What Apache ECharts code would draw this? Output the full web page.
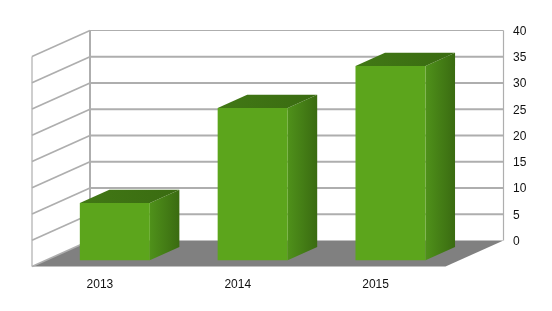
<!DOCTYPE html>
<html>
<head>
<meta charset="utf-8">
<style>html,body{margin:0;padding:0;background:#fff}#c{width:552px;height:311px}</style>
<script src="https://cdn.jsdelivr.net/npm/echarts@6/dist/echarts.min.js"></script>
</head>
<body>
<div id="c"></div>
<script>
const categories = ['2013', '2014', '2015'];
const values = [10.9, 29, 37];
const yTicks = [0, 5, 10, 15, 20, 25, 30, 35, 40];

const DX = 58, DY = -26;          // full depth of the 3D box
const F0 = 0.24, F1 = 0.749;      // bar depth range
const BAR = 0.508;                // bar width share of category band
const GREY = '#aeaeae';

const chart = echarts.init(document.getElementById('c'), null, {renderer: 'canvas'});

function poly(pts, fill, z2) {
  return {type: 'polygon', shape: {points: pts}, style: {fill: fill, stroke: null}, z2: z2 || 0};
}
function seg(a, b, w, z2) {
  return {type: 'line', shape: {x1: a[0], y1: a[1], x2: b[0], y2: b[1]},
    style: {stroke: GREY, lineWidth: w}, z2: z2 || 0};
}

function renderWalls(params, api) {
  const v = api.value(0);
  const p = api.coord([0, v]);
  const x0 = params.coordSys.x;
  const y = p[1];
  const children = [];
  const top = v === yTicks[yTicks.length - 1];
  const w = top ? 1.2 : 2;
  children.push(seg([x0, y], [x0 + DX, y + DY], top ? 1.5 : 1.8));
  if (v !== 0) {
    children.push(seg([x0 + DX, y + DY], [x0 + DX + params.coordSys.width, y + DY], w));
  }
  if (v === 0) {
    const xr = x0 + params.coordSys.width;
    const yT = params.coordSys.y;
    children.unshift(poly([[x0, y], [x0 + DX, y + DY], [xr + DX, y + DY], [xr, y]], '#808080'));
    children.push(seg([x0, y], [x0, yT], 1.2));
    children.push(seg([x0 + DX, y + DY], [x0 + DX, yT + DY], 2));
    children.push(seg([xr + DX, y + DY], [xr + DX, yT + DY], 1.2));
  }
  return {type: 'group', children: children};
}

function renderBar(params, api) {
  const i = api.value(0), v = api.value(1);
  const base = api.coord([i, 0]);
  const tip = api.coord([i, v]);
  const w = api.size([1, 0])[0] * BAR;
  const xl = base[0] - w / 2, xr = base[0] + w / 2;
  const off = (f, p) => [p[0] + DX * f, p[1] + DY * f];
  const fbl = off(F0, [xl, base[1]]), fbr = off(F0, [xr, base[1]]);
  const ftl = off(F0, [xl, tip[1]]), ftr = off(F0, [xr, tip[1]]);
  const bbr = off(F1, [xr, base[1]]);
  const btl = off(F1, [xl, tip[1]]), btr = off(F1, [xr, tip[1]]);
  const sideGrad = new echarts.graphic.LinearGradient(0, 0, 1, 0, [
    {offset: 0, color: '#4f911a'}, {offset: 1, color: '#3a6b11'}]);
  const topGrad = new echarts.graphic.LinearGradient(0, 0, 1, 0, [
    {offset: 0, color: '#417815'}, {offset: 1, color: '#3a6b11'}]);
  return {type: 'group', children: [
    poly([fbr, bbr, btr, ftr], sideGrad),
    poly([ftl, btl, btr, ftr], topGrad),
    poly([fbl, fbr, ftr, ftl], '#5ca51c')
  ]};
}

chart.setOption({
  animation: false,
  backgroundColor: '#ffffff',
  grid: [
    {left: 32, top: 56.5, width: 413.5, height: 210},
    {left: 91, top: 31.5, width: 413, height: 210}
  ],
  xAxis: [
    {gridIndex: 0, type: 'category', data: categories,
     axisLine: {show: false}, axisTick: {show: false}, splitLine: {show: false},
     axisLabel: {color: '#111', fontFamily: 'Liberation Sans', fontSize: 12, margin: 12, padding: [0, 2, 0, 0]}},
    {gridIndex: 1, type: 'category', data: categories, show: false}
  ],
  yAxis: [
    {gridIndex: 0, type: 'value', min: 0, max: 40, interval: 5, show: false},
    {gridIndex: 1, type: 'value', min: 0, max: 40, interval: 5, position: 'right',
     axisLine: {show: false}, axisTick: {show: false}, splitLine: {show: false},
     axisLabel: {color: '#111', fontFamily: 'Liberation Sans', fontSize: 12, margin: 9}}
  ],
  series: [
    {type: 'custom', xAxisIndex: 0, yAxisIndex: 0, z: 1, silent: true,
     data: yTicks.map(t => [t]), encode: {y: 0}, renderItem: renderWalls, clip: false},
    {type: 'custom', xAxisIndex: 0, yAxisIndex: 0, z: 2, silent: true,
     data: values.map((v, i) => [i, v]), encode: {x: 0, y: 1}, renderItem: renderBar, clip: false}
  ]
});
</script>
</body>
</html>
